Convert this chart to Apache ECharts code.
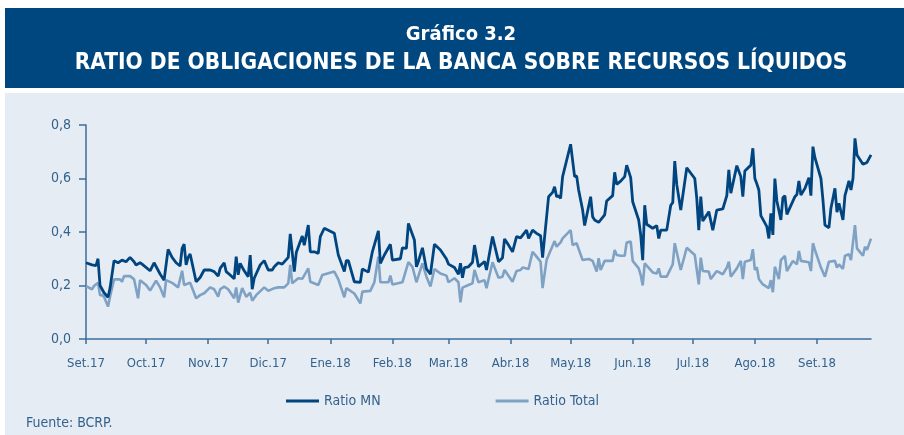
<!DOCTYPE html>
<html>
<head>
<meta charset="utf-8">
<script src="https://cdn.jsdelivr.net/npm/echarts@6/dist/echarts.min.js"></script>
<style>
  html, body { margin: 0; padding: 0; background: #fff; }
  #grafico { width: 904px; height: 435px; }
</style>
</head>
<body>
<div id="grafico"></div>
<script>
// etiquetas del eje X (primer día de cada mes)
const inicioMes = ['2017-09-01', '2017-10-01', '2017-11-01', '2017-12-01', '2018-01-01', '2018-02-01', '2018-03-01',
  '2018-04-01', '2018-05-01', '2018-06-01', '2018-07-01', '2018-08-01', '2018-09-01']
const etiquetasMes = ['Set.17', 'Oct.17', 'Nov.17', 'Dic.17', 'Ene.18', 'Feb.18', 'Mar.18',
  'Abr.18', 'May.18', 'Jun.18', 'Jul.18', 'Ago.18', 'Set.18']
const fechaInicio = '2017-09-01'
const fechaFin = '2018-09-28'

// Ratio MN
const fechasMN = [
  '2017-09-01', '2017-09-04', '2017-09-06', '2017-09-07', '2017-09-08', '2017-09-10', '2017-09-12', '2017-09-13', '2017-09-15', '2017-09-17', '2017-09-19', '2017-09-21', '2017-09-23', '2017-09-25', '2017-09-26', '2017-09-28', '2017-09-29',
  '2017-10-03', '2017-10-05', '2017-10-08', '2017-10-10', '2017-10-12', '2017-10-14', '2017-10-16', '2017-10-18', '2017-10-19', '2017-10-20', '2017-10-21', '2017-10-22', '2017-10-23', '2017-10-26', '2017-10-28', '2017-10-30',
  '2017-11-02', '2017-11-04', '2017-11-06', '2017-11-07', '2017-11-09', '2017-11-10', '2017-11-12', '2017-11-14', '2017-11-15', '2017-11-16', '2017-11-17', '2017-11-19', '2017-11-21', '2017-11-22', '2017-11-23', '2017-11-24', '2017-11-27', '2017-11-29',
  '2017-12-01', '2017-12-03', '2017-12-04', '2017-12-06', '2017-12-08', '2017-12-11', '2017-12-12', '2017-12-14', '2017-12-15', '2017-12-18', '2017-12-19', '2017-12-21', '2017-12-22', '2017-12-24', '2017-12-26', '2017-12-27', '2017-12-29',
  '2018-01-03', '2018-01-05', '2018-01-08', '2018-01-09', '2018-01-10', '2018-01-13', '2018-01-16', '2018-01-17', '2018-01-20', '2018-01-22', '2018-01-25', '2018-01-26', '2018-01-28', '2018-01-31',
  '2018-02-01', '2018-02-05', '2018-02-06', '2018-02-08', '2018-02-09', '2018-02-12', '2018-02-13', '2018-02-14', '2018-02-16', '2018-02-18', '2018-02-20', '2018-02-22', '2018-02-25', '2018-02-28',
  '2018-03-01', '2018-03-04', '2018-03-06', '2018-03-07', '2018-03-08', '2018-03-09', '2018-03-11', '2018-03-13', '2018-03-14', '2018-03-16', '2018-03-19', '2018-03-20', '2018-03-23', '2018-03-26', '2018-03-28', '2018-03-29', '2018-03-31',
  '2018-04-02', '2018-04-04', '2018-04-06', '2018-04-09', '2018-04-10', '2018-04-12', '2018-04-14', '2018-04-16', '2018-04-17', '2018-04-20', '2018-04-22', '2018-04-23', '2018-04-24', '2018-04-25', '2018-04-26', '2018-04-27',
  '2018-05-01', '2018-05-03', '2018-05-04', '2018-05-05', '2018-05-07', '2018-05-08', '2018-05-11', '2018-05-12', '2018-05-13', '2018-05-15', '2018-05-16', '2018-05-18', '2018-05-19', '2018-05-22', '2018-05-23', '2018-05-24', '2018-05-26', '2018-05-28', '2018-05-29', '2018-05-31',
  '2018-06-01', '2018-06-04', '2018-06-05', '2018-06-06', '2018-06-07', '2018-06-08', '2018-06-11', '2018-06-13', '2018-06-14', '2018-06-15', '2018-06-18', '2018-06-20', '2018-06-21', '2018-06-22', '2018-06-23', '2018-06-25', '2018-06-28',
  '2018-07-02', '2018-07-03', '2018-07-04', '2018-07-05', '2018-07-06', '2018-07-08', '2018-07-09', '2018-07-11', '2018-07-13', '2018-07-16', '2018-07-18', '2018-07-19', '2018-07-20', '2018-07-23', '2018-07-25', '2018-07-26', '2018-07-27', '2018-07-30', '2018-07-31',
  '2018-08-01', '2018-08-02', '2018-08-03', '2018-08-04', '2018-08-07', '2018-08-08', '2018-08-09', '2018-08-10', '2018-08-11', '2018-08-12', '2018-08-14', '2018-08-15', '2018-08-16', '2018-08-17', '2018-08-21', '2018-08-22', '2018-08-23', '2018-08-24', '2018-08-26', '2018-08-28', '2018-08-29', '2018-08-30', '2018-08-31',
  '2018-09-03', '2018-09-04', '2018-09-05', '2018-09-07', '2018-09-08', '2018-09-10', '2018-09-11', '2018-09-12', '2018-09-14', '2018-09-15', '2018-09-17', '2018-09-18', '2018-09-19', '2018-09-20', '2018-09-21', '2018-09-24', '2018-09-26', '2018-09-28'
]
const ratioMN = [
  0.285, 0.277, 0.274, 0.30, 0.20, 0.173, 0.156, 0.19, 0.293, 0.285, 0.295, 0.289, 0.305, 0.289, 0.277, 0.285, 0.28,
  0.255, 0.285, 0.243, 0.22, 0.335, 0.305, 0.285, 0.273, 0.339, 0.355, 0.277, 0.305, 0.318, 0.214, 0.23, 0.258,
  0.258, 0.252, 0.235, 0.264, 0.285, 0.252, 0.239, 0.225, 0.308, 0.24, 0.283, 0.255, 0.233, 0.314, 0.186, 0.227, 0.277, 0.293,
  0.258, 0.258, 0.27, 0.285, 0.28, 0.305, 0.393, 0.252, 0.323, 0.385, 0.351, 0.426, 0.326, 0.326, 0.32, 0.383, 0.414,
  0.395, 0.314, 0.252, 0.293, 0.293, 0.214, 0.212, 0.262, 0.25, 0.326, 0.404, 0.283, 0.314, 0.354,
  0.295, 0.30, 0.341, 0.339, 0.432, 0.37, 0.27, 0.29, 0.341, 0.262, 0.242, 0.354, 0.333, 0.299,
  0.28, 0.267, 0.242, 0.283, 0.229, 0.267, 0.27, 0.287, 0.351, 0.27, 0.29, 0.258, 0.383, 0.289, 0.304, 0.374, 0.351,
  0.326, 0.383, 0.378, 0.407, 0.376, 0.407, 0.395, 0.386, 0.304, 0.532, 0.548, 0.569, 0.532, 0.535, 0.526, 0.607,
  0.728, 0.607, 0.61, 0.557, 0.482, 0.424, 0.532, 0.457, 0.445, 0.436, 0.445, 0.464, 0.516, 0.536, 0.623, 0.578, 0.59, 0.607, 0.65, 0.603,
  0.513, 0.445, 0.389, 0.295, 0.50, 0.429, 0.414, 0.424, 0.376, 0.407, 0.407, 0.50, 0.51, 0.665, 0.578, 0.482, 0.64,
  0.60, 0.526, 0.407, 0.532, 0.441, 0.464, 0.476, 0.407, 0.482, 0.486, 0.536, 0.632, 0.545, 0.648, 0.607, 0.532, 0.628, 0.65, 0.713,
  0.60, 0.58, 0.557, 0.461, 0.42, 0.376, 0.47, 0.389, 0.60, 0.516, 0.445, 0.528, 0.536, 0.466, 0.532, 0.54, 0.591, 0.538, 0.563, 0.603, 0.536, 0.719, 0.678,
  0.60, 0.52, 0.426, 0.416, 0.489, 0.563, 0.474, 0.507, 0.445, 0.536, 0.591, 0.557, 0.60, 0.75, 0.688, 0.653, 0.66, 0.688
]

// Ratio Total
const fechasTotal = [
  '2017-09-01', '2017-09-04', '2017-09-05', '2017-09-07', '2017-09-08', '2017-09-09', '2017-09-10', '2017-09-12', '2017-09-13', '2017-09-15', '2017-09-18', '2017-09-19', '2017-09-20', '2017-09-23', '2017-09-25', '2017-09-27', '2017-09-28',
  '2017-10-01', '2017-10-03', '2017-10-06', '2017-10-08', '2017-10-10', '2017-10-11', '2017-10-14', '2017-10-17', '2017-10-19', '2017-10-20', '2017-10-23', '2017-10-26', '2017-10-28', '2017-10-30',
  '2017-11-02', '2017-11-04', '2017-11-06', '2017-11-07', '2017-11-09', '2017-11-11', '2017-11-14', '2017-11-15', '2017-11-16', '2017-11-18', '2017-11-20', '2017-11-22', '2017-11-23', '2017-11-25', '2017-11-29',
  '2017-12-01', '2017-12-04', '2017-12-06', '2017-12-09', '2017-12-11', '2017-12-12', '2017-12-13', '2017-12-16', '2017-12-18', '2017-12-21', '2017-12-22', '2017-12-26', '2017-12-28',
  '2018-01-03', '2018-01-05', '2018-01-08', '2018-01-09', '2018-01-13', '2018-01-16', '2018-01-17', '2018-01-21', '2018-01-23', '2018-01-25', '2018-01-26', '2018-01-30', '2018-01-31',
  '2018-02-01', '2018-02-06', '2018-02-09', '2018-02-11', '2018-02-13', '2018-02-16', '2018-02-18', '2018-02-20', '2018-02-22', '2018-02-25', '2018-02-28',
  '2018-03-01', '2018-03-04', '2018-03-06', '2018-03-07', '2018-03-08', '2018-03-11', '2018-03-13', '2018-03-14', '2018-03-16', '2018-03-19', '2018-03-20', '2018-03-23', '2018-03-26', '2018-03-28', '2018-03-29',
  '2018-04-02', '2018-04-04', '2018-04-06', '2018-04-07', '2018-04-10', '2018-04-12', '2018-04-14', '2018-04-16', '2018-04-17', '2018-04-19', '2018-04-23', '2018-04-24', '2018-04-26', '2018-04-27',
  '2018-05-01', '2018-05-02', '2018-05-04', '2018-05-07', '2018-05-10', '2018-05-12', '2018-05-14', '2018-05-15', '2018-05-16', '2018-05-18', '2018-05-22', '2018-05-23', '2018-05-24', '2018-05-26', '2018-05-28', '2018-05-29', '2018-05-31',
  '2018-06-01', '2018-06-04', '2018-06-05', '2018-06-06', '2018-06-07', '2018-06-11', '2018-06-13', '2018-06-14', '2018-06-15', '2018-06-18', '2018-06-20', '2018-06-21', '2018-06-22', '2018-06-25', '2018-06-28',
  '2018-07-02', '2018-07-04', '2018-07-05', '2018-07-06', '2018-07-09', '2018-07-10', '2018-07-13', '2018-07-16', '2018-07-18', '2018-07-19', '2018-07-20', '2018-07-23', '2018-07-25', '2018-07-26', '2018-07-27', '2018-07-30', '2018-07-31',
  '2018-08-01', '2018-08-02', '2018-08-03', '2018-08-05', '2018-08-07', '2018-08-08', '2018-08-09', '2018-08-10', '2018-08-11', '2018-08-13', '2018-08-14', '2018-08-16', '2018-08-17', '2018-08-20', '2018-08-22', '2018-08-23', '2018-08-24', '2018-08-28', '2018-08-29', '2018-08-30', '2018-08-31',
  '2018-09-03', '2018-09-05', '2018-09-07', '2018-09-10', '2018-09-11', '2018-09-12', '2018-09-14', '2018-09-15', '2018-09-17', '2018-09-18', '2018-09-20', '2018-09-21', '2018-09-24', '2018-09-25', '2018-09-26', '2018-09-28'
]
const ratioTotal = [
  0.198, 0.186, 0.198, 0.21, 0.164, 0.164, 0.158, 0.121, 0.158, 0.223, 0.223, 0.214, 0.235, 0.235, 0.223, 0.152, 0.22,
  0.202, 0.181, 0.218, 0.193, 0.156, 0.22, 0.21, 0.193, 0.255, 0.202, 0.21, 0.152, 0.164, 0.171,
  0.193, 0.186, 0.158, 0.186, 0.196, 0.186, 0.152, 0.193, 0.136, 0.19, 0.158, 0.173, 0.143, 0.164, 0.193,
  0.18, 0.19, 0.193, 0.193, 0.208, 0.277, 0.208, 0.227, 0.225, 0.264, 0.214, 0.202, 0.239,
  0.252, 0.223, 0.156, 0.19, 0.17, 0.133, 0.177, 0.18, 0.212, 0.308, 0.212, 0.212, 0.237,
  0.204, 0.212, 0.287, 0.27, 0.212, 0.283, 0.233, 0.196, 0.262, 0.245, 0.237,
  0.212, 0.227, 0.212, 0.137, 0.192, 0.202, 0.208, 0.258, 0.212, 0.22, 0.19, 0.287, 0.229, 0.233, 0.258,
  0.214, 0.254, 0.258, 0.267, 0.262, 0.326, 0.308, 0.289, 0.19, 0.295, 0.366, 0.345, 0.361, 0.376,
  0.407, 0.351, 0.358, 0.295, 0.299, 0.292, 0.252, 0.302, 0.258, 0.292, 0.292, 0.333, 0.314, 0.311, 0.311, 0.361, 0.364,
  0.292, 0.264, 0.239, 0.20, 0.283, 0.249, 0.245, 0.264, 0.233, 0.233, 0.264, 0.279, 0.358, 0.258, 0.341,
  0.314, 0.204, 0.304, 0.254, 0.252, 0.224, 0.254, 0.242, 0.267, 0.289, 0.233, 0.264, 0.292, 0.224, 0.289, 0.295, 0.336,
  0.258, 0.268, 0.224, 0.204, 0.195, 0.19, 0.22, 0.175, 0.27, 0.224, 0.295, 0.311, 0.254, 0.292, 0.279, 0.329, 0.292, 0.287, 0.254, 0.358, 0.333,
  0.267, 0.233, 0.289, 0.292, 0.267, 0.279, 0.262, 0.311, 0.317, 0.295, 0.426, 0.339, 0.311, 0.345, 0.333, 0.375
]

const colorMN = '#00457f'
const colorTotal = '#7fa2c4'
const colorTexto = '#33628f'
const fuente = "'Liberation Sans Narrow', 'DejaVu Sans Condensed', 'Noto Sans', sans-serif"

// un día por categoría, para que la distancia entre meses sea la del calendario
const dias = []
for (let t = Date.parse(fechaInicio); t <= Date.parse(fechaFin); t += 86400000) {
  dias.push(new Date(t).toISOString().slice(0, 10))
}
const esInicioMes = (i, valor) => inicioMes.indexOf(valor) >= 0

const chart = echarts.init(document.getElementById('grafico'), null, { renderer: 'canvas' })

const option = {
  animation: false,
  backgroundColor: '#ffffff',
  textStyle: { fontFamily: fuente },
  graphic: [
    { type: 'rect', z: -10, shape: { x: 5, y: 8, width: 899, height: 80 }, style: { fill: '#00467f' } },
    { type: 'rect', z: -10, shape: { x: 5, y: 93, width: 899, height: 342 }, style: { fill: '#e5ecf3' } },
    {
      type: 'text', x: 461, y: 35,
      style: { text: 'Gráfico 3.2', fill: '#ffffff', font: 'bold 20px ' + fuente, align: 'center', verticalAlign: 'middle' }
    },
    {
      type: 'text', x: 461, y: 63,
      style: { text: 'RATIO DE OBLIGACIONES DE LA BANCA SOBRE RECURSOS LÍQUIDOS', fill: '#ffffff', font: 'bold 22.5px ' + fuente, align: 'center', verticalAlign: 'middle' }
    },
    {
      type: 'text', x: 26, y: 423,
      style: { text: 'Fuente: BCRP.', fill: colorTexto, font: '14px ' + fuente, align: 'left', verticalAlign: 'middle' }
    }
  ],
  legend: {
    left: 281,
    top: 389,
    icon: 'rect',
    itemWidth: 33,
    itemHeight: 3,
    itemGap: 115,
    textStyle: { color: colorTexto, fontSize: 14, fontFamily: fuente },
    data: ['Ratio MN', 'Ratio Total']
  },
  grid: { left: 86, right: 33, top: 125, bottom: 96, containLabel: false },
  xAxis: {
    type: 'category',
    data: dias,
    boundaryGap: false,
    axisLine: { lineStyle: { color: '#3d6d9c', width: 1.5 } },
    axisTick: { interval: esInicioMes, length: 5, lineStyle: { color: '#3d6d9c', width: 1.5 } },
    axisLabel: {
      interval: esInicioMes,
      color: colorTexto,
      fontSize: 13,
      margin: 18,
      formatter: v => etiquetasMes[inicioMes.indexOf(v)]
    },
    splitLine: { show: false }
  },
  yAxis: {
    type: 'value',
    min: 0,
    max: 0.8,
    interval: 0.2,
    axisLine: { show: true, lineStyle: { color: '#3d6d9c', width: 1.5 } },
    axisTick: { show: true, length: 7, lineStyle: { color: '#3d6d9c', width: 1.5 } },
    axisLabel: {
      color: colorTexto,
      fontSize: 14,
      margin: 15,
      formatter: v => v.toFixed(1).replace('.', ',')
    },
    splitLine: { show: false }
  },
  series: [
    {
      name: 'Ratio Total',
      type: 'line',
      data: fechasTotal.map((f, i) => [f, ratioTotal[i]]),
      showSymbol: false,
      color: colorTotal,
      lineStyle: { width: 2.6, color: colorTotal },
      z: 2
    },
    {
      name: 'Ratio MN',
      type: 'line',
      data: fechasMN.map((f, i) => [f, ratioMN[i]]),
      showSymbol: false,
      color: colorMN,
      lineStyle: { width: 2.8, color: colorMN },
      z: 3
    }
  ]
}

chart.setOption(option)
</script>
</body>
</html>
